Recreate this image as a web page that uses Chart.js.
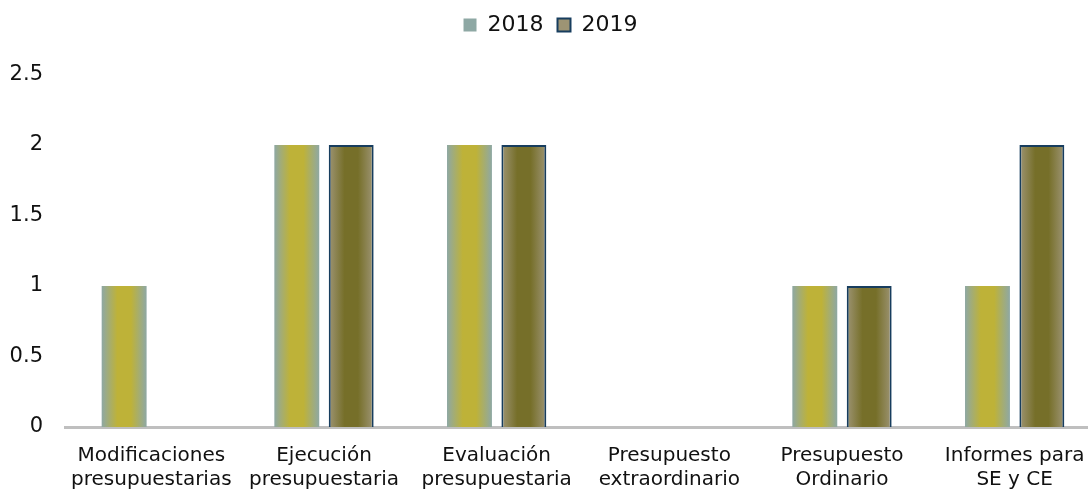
<!DOCTYPE html>
<html>
<head>
<meta charset="utf-8">
<script src="https://cdn.jsdelivr.net/npm/chart.js@4.4.1/dist/chart.umd.min.js"></script>
<style>
  html, body { margin: 0; padding: 0; background: #fff; overflow: hidden; }
  #wrap { width: 1131px; height: 493px; }
</style>
</head>
<body>
<div id="wrap"><canvas id="barChart"></canvas></div>
<script>
// --- Data ---
const categories = [
  ["Modificaciones", "presupuestarias"],
  ["Ejecución", "presupuestaria"],
  ["Evaluación", "presupuestaria"],
  ["Presupuesto", "extraordinario"],
  ["Presupuesto", "Ordinario"],
  ["Informes para", "SE y CE"],
];
const values2018 = [1, 2, 2, 0, 1, 1];
const values2019 = [0, 2, 2, 0, 1, 2];
const yTicks = [0, 0.5, 1, 1.5, 2, 2.5];

// --- Bar layout ---
const CAT_PCT = 0.63;
const BAR_PCT = 0.826;

// Horizontal gradient: edge colour -> centre colour -> edge colour
const barFill = (edge, center, legendColor) => (ctx) => {
  if (ctx.type !== "data") return legendColor;
  const chart = ctx.chart;
  const x = chart.scales.x;
  if (!x || !chart.chartArea) return center;
  const catW = x.width / categories.length;
  const slot = (catW * CAT_PCT) / 2;
  const bw = slot * BAR_PCT;
  const cx = x.getPixelForValue(ctx.dataIndex) + (ctx.datasetIndex - 0.5) * slot;
  const g = chart.ctx.createLinearGradient(cx - bw / 2, 0, cx + bw / 2, 0);
  g.addColorStop(0, edge);
  g.addColorStop(0.35, center);
  g.addColorStop(0.65, center);
  g.addColorStop(1, edge);
  return g;
};

// Push chart area down below the legend
const legendSpace = {
  id: "legendSpace",
  beforeInit(chart) {
    const fit = chart.legend.fit;
    chart.legend.fit = function () {
      fit.bind(chart.legend)();
      this.height = 74.5;
    };
  },
};

const textColor = "#111111";

new Chart(document.getElementById("barChart").getContext("2d"), {
  type: "bar",
  data: {
    labels: categories,
    datasets: [
      {
        label: "2018",
        data: values2018,
        backgroundColor: barFill("#8ea8a4", "#beb238", "#7fa6ad"),
        borderWidth: 0,
      },
      {
        label: "2019",
        data: values2019,
        backgroundColor: barFill("#9d9474", "#766f29", "#9a9478"),
        borderColor: "#173d5e",
        borderWidth: 2,
        borderSkipped: "bottom",
      },
    ],
  },
  options: {
    responsive: true,
    maintainAspectRatio: false,
    animation: false,
    categoryPercentage: CAT_PCT,
    barPercentage: BAR_PCT,
    layout: { padding: { left: 0, right: 30, top: 0, bottom: 0 } },
    plugins: {
      legend: {
        position: "top",
        align: "center",
        labels: {
          boxWidth: 13,
          boxHeight: 13,
          padding: 14,
          color: textColor,
          font: { family: "DejaVu Sans", size: 22 },
        },
      },
      tooltip: { enabled: false },
    },
    scales: {
      x: {
        grid: { display: false, drawTicks: false },
        border: { display: true, color: "#bfbfbf", width: 3 },
        ticks: {
          autoSkip: false,
          maxRotation: 0,
          minRotation: 0,
          padding: 17,
          color: textColor,
          font: { family: "DejaVu Sans", size: 20, lineHeight: 1.2 },
        },
        afterFit: (scale) => {
          scale.height = 66;
        },
      },
      y: {
        min: 0,
        max: 2.5,
        grid: { display: false, drawTicks: false },
        border: { display: false },
        afterBuildTicks: (scale) => {
          scale.ticks = yTicks.map((v) => ({ value: v }));
        },
        ticks: {
          padding: 22,
          color: textColor,
          font: { family: "DejaVu Sans", size: 21 },
          callback: (value) => String(value),
        },
        afterFit: (scale) => {
          scale.width = 65;
        },
      },
    },
  },
  plugins: [legendSpace],
});
</script>
</body>
</html>
